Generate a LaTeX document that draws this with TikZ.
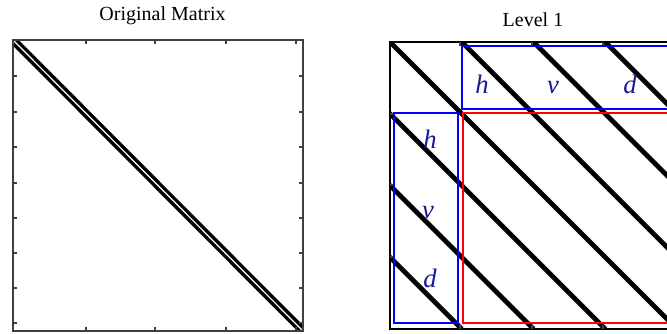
\documentclass[tikz,border=0pt]{standalone}
\usepackage{fontspec}
\setmainfont{Liberation Serif}
\definecolor{lblblue}{RGB}{25,25,150}

\begin{document}
\begin{tikzpicture}[x=0.75pt, y=-0.75pt, line cap=butt, line join=miter]

		% ================= 1. 样式 =================
		\tikzset{
			frame/.style={line width=1pt, draw=black!75},
			tick/.style={line width=0.8pt, draw=black!75},
			diag/.style={line width=3.6pt, draw=black},
			band/.style={line width=0.9pt, draw=blue},
			core/.style={line width=0.9pt, draw=red},
			lbl/.style={text=lblblue, font=\fontsize{20}{24}\selectfont\itshape, anchor=base, inner sep=0pt},
			ttl/.style={font=\fontsize{15}{18}\selectfont, anchor=base, inner sep=0pt}
		}

		\useasboundingbox (0,0) rectangle (667,333);

		% ================= 2. 左图：原始矩阵 =================
		\node[ttl] (ttlA) at (162.5,20) {Original Matrix};

		\begin{scope}
			\clip (13,40) rectangle (303,331);
			\draw[double=white, double distance=0.9pt, line width=2.6pt] (5,32) -- (311,339);
		\end{scope}
		\draw[frame] (13,40) rectangle (303,331);

		% 刻度
		\foreach \x in {86,155,226,296} {
			\draw[tick] (\x,40) -- ++(0,4);
			\draw[tick] (\x,331) -- ++(0,-4);
		}
		\foreach \y in {76,112,147,183,218,253,288,323} {
			\draw[tick] (13,\y) -- ++(4,0);
			\draw[tick] (303,\y) -- ++(-4,0);
		}

		% ================= 3. 右图：第一层分块 =================
		\node[ttl] (ttlB) at (533,26) {Level 1};

		\begin{scope}
			\clip (390,42) rectangle (677,329);
			\foreach \k in {-3,...,3}
				\draw[diag] ({390+\k*71.75},42) -- ++(287,287);
		\end{scope}
		\draw[frame, draw=black] (390,42) rectangle (677,329);

		% 分块刻度
		\foreach \x in {460,532,603} {
			\draw[tick] (\x,42) -- ++(0,4);
			\draw[tick] (\x,329) -- ++(0,-4);
		}
		\foreach \y in {114,185,257} {
			\draw[tick] (390,\y) -- ++(4,0);
		}

		% 细节子带与近似子带
		\draw[band] (462,46) rectangle (673,109);
		\draw[band] (394,113) rectangle (458,323);
		\draw[core] (463,113) rectangle (673,323);

		% 子带标签
		\node[lbl] (hTop) at (482,93) {h};
		\node[lbl] (vTop) at (553,93) {v};
		\node[lbl] (dTop) at (630,93) {d};
		\node[lbl] (hLeft) at (430,148) {h};
		\node[lbl] (vLeft) at (428,218) {v};
		\node[lbl] (dLeft) at (430,287) {d};

	\end{tikzpicture}
\end{document}
